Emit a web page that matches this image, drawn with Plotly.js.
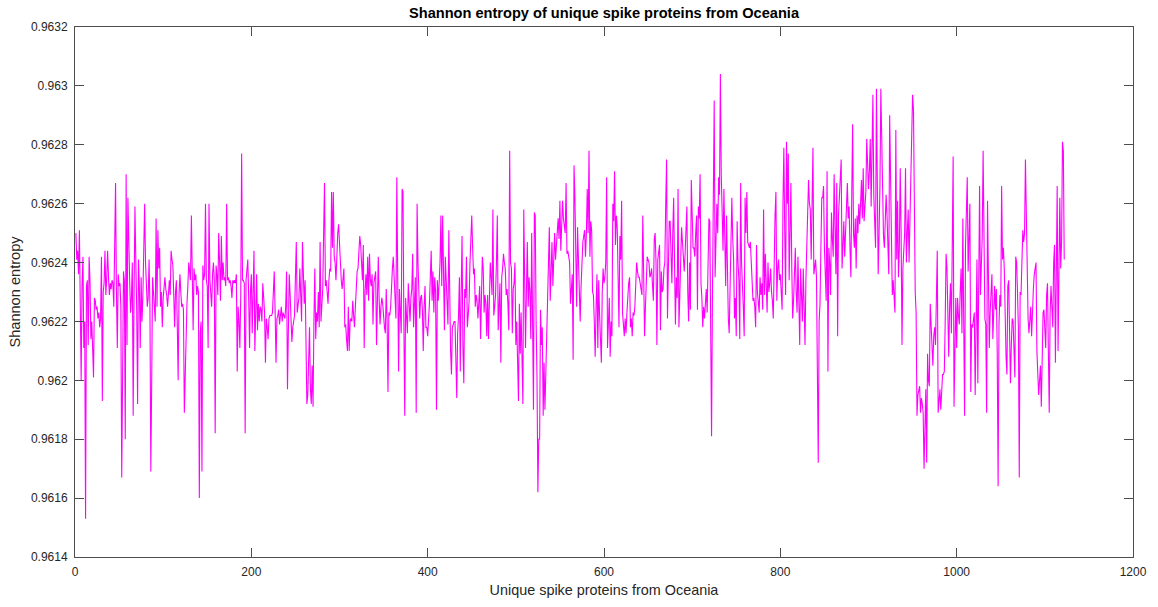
<!DOCTYPE html>
<html>
<head>
<meta charset="utf-8">
<script src="https://cdn.plot.ly/plotly-3.0.1.min.js"></script>
<style>
  html, body { margin: 0; padding: 0; background: #ffffff; }
  #chart { width: 1158px; height: 607px; }
</style>
</head>
<body>
<div id="chart"></div>
<script>
// Shannon entropy of each unique spike protein sequence (index 1..N)
const shannonEntropy = [
  0.9625, 0.96241, 0.96244, 0.96236, 0.96251, 0.9623, 0.962, 0.96232, 0.96242, 0.96211,
  0.9622, 0.96153, 0.96232, 0.96234, 0.96212, 0.96242, 0.96234, 0.96214, 0.9622, 0.96211,
  0.96201, 0.96228, 0.96227, 0.96224, 0.96225, 0.96221, 0.96223, 0.96218, 0.96221, 0.96242,
  0.96193, 0.9623, 0.96233, 0.96244, 0.96229, 0.96235, 0.96244, 0.96235, 0.96229, 0.96233,
  0.96231, 0.96234, 0.96233, 0.96225, 0.96245, 0.96267, 0.9623, 0.96211, 0.96236, 0.96232,
  0.96233, 0.96225, 0.96167, 0.9621, 0.96237, 0.96234, 0.9618, 0.9627, 0.96212, 0.96262,
  0.9624, 0.96234, 0.96223, 0.96228, 0.9624, 0.96188, 0.9623, 0.96259, 0.9624, 0.96224,
  0.96192, 0.96241, 0.96232, 0.96211, 0.96235, 0.9622, 0.96229, 0.9625, 0.9626, 0.9624,
  0.96231, 0.96225, 0.96228, 0.96241, 0.96225, 0.96169, 0.962, 0.96235, 0.9623, 0.96224,
  0.9622, 0.96255, 0.96225, 0.96251, 0.96238,
  // 96..193
  0.96245, 0.96225, 0.9623, 0.96218, 0.96228, 0.96234, 0.96235, 0.96231, 0.96229, 0.96225,
  0.9623, 0.96234, 0.96229, 0.96244, 0.96241, 0.96239, 0.96229, 0.96218, 0.9623, 0.96234,
  0.96219, 0.962, 0.96229, 0.96236, 0.9623, 0.96225, 0.96226, 0.96224, 0.96189, 0.96205,
  0.96216, 0.96226, 0.96232, 0.9624, 0.96237, 0.96234, 0.96256, 0.9623, 0.96217, 0.96238,
  0.96234, 0.96236, 0.96229, 0.96232, 0.9623, 0.9616, 0.96216, 0.9622, 0.96169, 0.96239,
  0.96234, 0.96236, 0.9626, 0.96234, 0.96232, 0.96211, 0.9626, 0.96234, 0.96229, 0.96225,
  0.96236, 0.9624, 0.96234, 0.96182, 0.96239, 0.96236, 0.96229, 0.9625, 0.9624, 0.96227,
  0.96249, 0.96234, 0.9624, 0.96234, 0.96235, 0.96232, 0.9626, 0.96234, 0.96235, 0.96233,
  0.96234, 0.96232, 0.96228, 0.96234, 0.96233, 0.96234, 0.96233, 0.96236, 0.96203, 0.96225,
  0.9622, 0.96211, 0.96229, 0.96277, 0.96234, 0.96234, 0.96233, 0.96182,
  // 194..291
  0.96234, 0.9624, 0.96241, 0.96228, 0.96211, 0.9623, 0.96236, 0.96216, 0.9623, 0.96244,
  0.9621, 0.96225, 0.96236, 0.96217, 0.96226, 0.9622, 0.96225, 0.96224, 0.9622, 0.96233,
  0.96226, 0.96223, 0.96206, 0.96221, 0.96218, 0.96214, 0.96221, 0.96222, 0.96222, 0.96222,
  0.96223, 0.9623, 0.96237, 0.96223, 0.96206, 0.96221, 0.96222, 0.96224, 0.96219, 0.96222,
  0.96225, 0.9622, 0.96223, 0.96222, 0.96221, 0.96225, 0.96237, 0.96197, 0.9622, 0.96236,
  0.96229, 0.9622, 0.96213, 0.96218, 0.9622, 0.96222, 0.96235, 0.96247, 0.96223, 0.96226,
  0.96228, 0.96238, 0.96226, 0.9622, 0.96247, 0.9623, 0.96226, 0.96234, 0.96198, 0.96192,
  0.96195, 0.9621, 0.96218, 0.96197, 0.96192, 0.96205, 0.96191, 0.9622, 0.96238, 0.96214,
  0.96223, 0.9622, 0.9623, 0.96218, 0.96247, 0.9622, 0.96228, 0.96231, 0.9625, 0.96267,
  0.96232, 0.96234, 0.9623, 0.96226, 0.96234, 0.96238, 0.96237, 0.96264,
  // 292..389
  0.96245, 0.96264, 0.96242, 0.9624, 0.96234, 0.96244, 0.9625, 0.96253, 0.96246, 0.96238,
  0.96234, 0.96231, 0.96236, 0.96238, 0.96218, 0.96219, 0.96214, 0.9621, 0.96225, 0.9621,
  0.9622, 0.96221, 0.9622, 0.96227, 0.96222, 0.96218, 0.96225, 0.96233, 0.96237, 0.96238,
  0.96244, 0.96249, 0.96246, 0.96238, 0.96234, 0.96246, 0.96211, 0.9623, 0.96236, 0.96229,
  0.96242, 0.96227, 0.96243, 0.96234, 0.96232, 0.96236, 0.96219, 0.96233, 0.96236, 0.96237,
  0.96212, 0.9623, 0.96242, 0.96227, 0.96219, 0.96225, 0.96228, 0.96226, 0.96221, 0.96218,
  0.96216, 0.96231, 0.9622, 0.96196, 0.96223, 0.96222, 0.96225, 0.96235, 0.96238, 0.96242,
  0.96236, 0.96228, 0.96221, 0.96269, 0.9623, 0.96203, 0.96231, 0.9622, 0.96216, 0.96265,
  0.96264, 0.9622, 0.96188, 0.96228, 0.96222, 0.96216, 0.96233, 0.96224, 0.9622, 0.96228,
  0.96231, 0.96243, 0.96218, 0.96226, 0.96235, 0.96189, 0.9626, 0.9624,
  // 390..487
  0.96231, 0.96221, 0.96228, 0.96229, 0.96224, 0.9621, 0.96225, 0.96232, 0.96218, 0.96218,
  0.96215, 0.9622, 0.96226, 0.96235, 0.96244, 0.96227, 0.96237, 0.96223, 0.96235, 0.9623,
  0.9619, 0.96234, 0.96227, 0.96233, 0.9624, 0.96256, 0.96232, 0.96256, 0.9623, 0.96217,
  0.96242, 0.96232, 0.96228, 0.96219, 0.96251, 0.96219, 0.9621, 0.96202, 0.96218, 0.96219,
  0.9622, 0.9622, 0.96208, 0.96194, 0.96216, 0.96222, 0.96235, 0.96203, 0.9623, 0.96249,
  0.96211, 0.96199, 0.96231, 0.96228, 0.96242, 0.96218, 0.96222, 0.96227, 0.9624, 0.96248,
  0.96256, 0.96245, 0.96236, 0.96238, 0.96225, 0.96229, 0.96227, 0.96221, 0.96226, 0.96232,
  0.96214, 0.9623, 0.96242, 0.96238, 0.96223, 0.96229, 0.96226, 0.96215, 0.96229, 0.96214,
  0.96233, 0.9624, 0.96235, 0.96229, 0.96258, 0.96222, 0.96225, 0.96229, 0.9624, 0.96256,
  0.96217, 0.96228, 0.96233, 0.96206, 0.96235, 0.96238, 0.96243, 0.9624,
  // 488..584
  0.96238, 0.96229, 0.96231, 0.96226, 0.96217, 0.96278, 0.9624, 0.96238, 0.96216, 0.96231,
  0.96233, 0.9624, 0.96212, 0.9622, 0.96208, 0.96193, 0.96226, 0.96209, 0.96223, 0.9621,
  0.96192, 0.96258, 0.96219, 0.96211, 0.9623, 0.96247, 0.96225, 0.96235, 0.9623, 0.96214,
  0.9625, 0.96223, 0.9619, 0.96257, 0.96256, 0.9622, 0.96201, 0.96162, 0.9618, 0.9618,
  0.96224, 0.96212, 0.96218, 0.96188, 0.96206, 0.9619, 0.96202, 0.9621, 0.96229, 0.9624,
  0.96252, 0.96227, 0.9624, 0.96247, 0.96232, 0.9624, 0.9625, 0.96241, 0.96245, 0.96252,
  0.96255, 0.96248, 0.96261, 0.96244, 0.96252, 0.96261, 0.96255, 0.96253, 0.9625, 0.96267,
  0.96243, 0.96244, 0.96242, 0.9624, 0.96226, 0.9623, 0.96236, 0.96207, 0.96273, 0.96262,
  0.96245, 0.96225, 0.96252, 0.9624, 0.96233, 0.9622, 0.96232, 0.9624, 0.96247, 0.96249,
  0.96251, 0.96242, 0.9625, 0.96265, 0.9625, 0.96278, 0.96242,
  // 585..682
  0.96254, 0.96251, 0.9623, 0.96229, 0.9622, 0.96208, 0.96225, 0.96236, 0.96211, 0.96234,
  0.96222, 0.96211, 0.96206, 0.9623, 0.96238, 0.96233, 0.96235, 0.9624, 0.96269, 0.96211,
  0.9622, 0.96228, 0.96208, 0.9622, 0.96215, 0.9626, 0.96254, 0.96271, 0.96246, 0.96256,
  0.96252, 0.9623, 0.96218, 0.96249, 0.96241, 0.96261, 0.96223, 0.96219, 0.96215, 0.96221,
  0.96216, 0.96223, 0.96231, 0.96233, 0.96235, 0.96218, 0.96221, 0.96215, 0.96223, 0.96222,
  0.96225, 0.96235, 0.9624, 0.96237, 0.96235, 0.96235, 0.96233, 0.9623, 0.96229, 0.96256,
  0.96229, 0.96215, 0.96225, 0.96231, 0.96242, 0.96241, 0.9624, 0.96235, 0.96236, 0.96238,
  0.96234, 0.96227, 0.96248, 0.9625, 0.9624, 0.96212, 0.96241, 0.96244, 0.96246, 0.96217,
  0.96237, 0.9623, 0.96231, 0.96238, 0.9624, 0.9626, 0.96275, 0.96221, 0.9624, 0.96254,
  0.96254, 0.9624, 0.96233, 0.9625, 0.96262, 0.9624, 0.96219, 0.96235,
  // 683..779
  0.96228, 0.96265, 0.96218, 0.96229, 0.9624, 0.96252, 0.96247, 0.9624, 0.96237, 0.96243,
  0.9625, 0.96259, 0.9623, 0.9622, 0.9624, 0.96224, 0.96268, 0.96249, 0.96245, 0.96245,
  0.96242, 0.9625, 0.96256, 0.96224, 0.96259, 0.96255, 0.9627, 0.96233, 0.96228, 0.96218,
  0.96225, 0.96221, 0.96225, 0.96231, 0.96223, 0.9624, 0.96255, 0.96254, 0.9622, 0.96181,
  0.96229, 0.9626, 0.96295, 0.96235, 0.96245, 0.9626, 0.9625, 0.96269, 0.96263, 0.96304,
  0.9627, 0.96251, 0.96244, 0.96265, 0.96245, 0.96232, 0.96256, 0.96235, 0.96221, 0.96216,
  0.9623, 0.9625, 0.96262, 0.96248, 0.96241, 0.96221, 0.96228, 0.96215, 0.96254, 0.9624,
  0.96234, 0.96214, 0.96267, 0.9624, 0.96234, 0.96225, 0.96215, 0.96262, 0.9625, 0.96264,
  0.96247, 0.96246, 0.96245, 0.96247, 0.96238, 0.96231, 0.96227, 0.96228, 0.96225, 0.96218,
  0.96246, 0.9623, 0.96225, 0.96223, 0.96235, 0.96229, 0.96233,
  // 780..877
  0.96224, 0.96258, 0.96229, 0.96243, 0.9623, 0.96223, 0.9624, 0.9623, 0.96233, 0.96238,
  0.9623, 0.96227, 0.96221, 0.96245, 0.96256, 0.96264, 0.96227, 0.96238, 0.96241, 0.96234,
  0.96236, 0.9623, 0.96224, 0.9626, 0.96279, 0.9625, 0.96229, 0.96281, 0.9626, 0.96277,
  0.96234, 0.9625, 0.96267, 0.96238, 0.96221, 0.96227, 0.96235, 0.96245, 0.9623, 0.96223,
  0.96242, 0.96225, 0.96212, 0.96238, 0.96225, 0.9622, 0.96238, 0.9622, 0.96212, 0.96234,
  0.96245, 0.96261, 0.96268, 0.9626, 0.96258, 0.96241, 0.9626, 0.96279, 0.96236, 0.96238,
  0.96241, 0.96235, 0.9621, 0.96172, 0.9622, 0.96226, 0.96245, 0.96262, 0.96262, 0.96266,
  0.96245, 0.96235, 0.96227, 0.96271, 0.96203, 0.96245, 0.9624, 0.96229, 0.96257, 0.96248,
  0.96242, 0.9627, 0.9625, 0.96236, 0.96267, 0.96215, 0.96256, 0.96262, 0.96272, 0.96275,
  0.96238, 0.9625, 0.96254, 0.96242, 0.9625, 0.96258, 0.96267, 0.96255,
  // 878..974
  0.96259, 0.96245, 0.96235, 0.96263, 0.96287, 0.9625, 0.96245, 0.96255, 0.96238, 0.96256,
  0.9625, 0.9626, 0.96253, 0.9626, 0.96268, 0.96255, 0.96272, 0.96254, 0.9626, 0.96264,
  0.96282, 0.96275, 0.96265, 0.96271, 0.96282, 0.96259, 0.9628, 0.96297, 0.96263, 0.9625,
  0.96245, 0.96299, 0.96261, 0.96236, 0.9625, 0.96266, 0.96299, 0.96277, 0.96272, 0.96249,
  0.96245, 0.96255, 0.96263, 0.96256, 0.96245, 0.96236, 0.9629, 0.96263, 0.96241, 0.96229,
  0.96234, 0.9623, 0.96223, 0.96285, 0.96241, 0.96261, 0.96235, 0.96245, 0.96272, 0.9625,
  0.96212, 0.96238, 0.96243, 0.9625, 0.96272, 0.9624, 0.9625, 0.96258, 0.9624, 0.96255,
  0.96261, 0.96281, 0.96297, 0.96292, 0.96252, 0.9623, 0.96223, 0.96188, 0.96195, 0.96197,
  0.96198, 0.96189, 0.96194, 0.96192, 0.96189, 0.9617, 0.96185, 0.96197, 0.96172, 0.96209,
  0.962, 0.96198, 0.96226, 0.9622, 0.96214, 0.96205, 0.96215,
  // 975..1072
  0.96218, 0.96212, 0.9623, 0.96244, 0.96189, 0.96195, 0.96197, 0.9619, 0.962, 0.96202,
  0.96202, 0.96203, 0.9622, 0.96243, 0.96238, 0.9622, 0.96208, 0.96225, 0.96233, 0.96216,
  0.9625, 0.96276, 0.96191, 0.9622, 0.96228, 0.96211, 0.96228, 0.96222, 0.96219, 0.9623,
  0.96238, 0.96216, 0.96255, 0.9622, 0.96188, 0.96245, 0.9626, 0.96269, 0.96237, 0.9625,
  0.9626, 0.96196, 0.96219, 0.96218, 0.9622, 0.96223, 0.96195, 0.9622, 0.96241, 0.96199,
  0.96245, 0.96266, 0.96229, 0.9624, 0.96249, 0.96278, 0.9624, 0.96221, 0.96219, 0.96189,
  0.96261, 0.9623, 0.96211, 0.96223, 0.9623, 0.96236, 0.96214, 0.96225, 0.96232, 0.96224,
  0.96231, 0.9621, 0.96164, 0.96219, 0.96229, 0.96225, 0.96266, 0.96241, 0.96245, 0.96238,
  0.96214, 0.96208, 0.96202, 0.96232, 0.96234, 0.9622, 0.96199, 0.96212, 0.96221, 0.9622,
  0.9621, 0.96201, 0.96242, 0.9624, 0.9623, 0.96218, 0.96167, 0.9623,
  // 1073..1122
  0.96229, 0.96238, 0.96251, 0.96247, 0.9625, 0.96275, 0.9625, 0.9623, 0.96221, 0.96216,
  0.9622, 0.96225, 0.96215, 0.96225, 0.96231, 0.96236, 0.96238, 0.9624, 0.9621, 0.96198,
  0.96195, 0.962, 0.96205, 0.96191, 0.96215, 0.96223, 0.96224, 0.96215, 0.96211, 0.96229,
  0.96233, 0.9621, 0.96189, 0.96223, 0.96232, 0.96225, 0.96218, 0.9624, 0.96246, 0.96206,
  0.9624, 0.96266, 0.9621, 0.96255, 0.96262, 0.96238, 0.96247, 0.96281, 0.96278, 0.96241
];

// Axis ticks
const xTicks = [0, 200, 400, 600, 800, 1000, 1200];
const yTicks = [0.9614, 0.9616, 0.9618, 0.962, 0.9622, 0.9624, 0.9626, 0.9628, 0.963, 0.9632];
const yTickText = ['0.9614', '0.9616', '0.9618', '0.962', '0.9622', '0.9624', '0.9626', '0.9628', '0.963', '0.9632'];

const chartTitle = 'Shannon entropy of unique spike proteins from Oceania';
const xLabel = 'Unique spike proteins from Oceania';
const yLabel = 'Shannon entropy';

const FONT = 'Liberation Sans, Arial, Helvetica, sans-serif';
const INK = '#262626';

const trace = {
  type: 'scatter',
  mode: 'lines',
  x0: 1,
  dx: 1,
  y: shannonEntropy,
  line: { color: '#ff00ff', width: 1.1 },
  hoverinfo: 'x+y'
};

const axisCommon = {
  showgrid: false,
  zeroline: false,
  showline: true,
  linecolor: '#4d4d4d',
  linewidth: 1,
  mirror: 'ticks',
  ticks: 'inside',
  ticklen: 9,
  tickwidth: 1,
  tickcolor: '#4d4d4d',
  tickfont: { family: FONT, size: 12, color: INK },
  automargin: false
};

const layout = {
  width: 1158,
  height: 607,
  margin: { l: 75, r: 25, t: 27, b: 50, pad: 0 },
  paper_bgcolor: '#ffffff',
  plot_bgcolor: '#ffffff',
  showlegend: false,
  title: {
    text: '<b>' + chartTitle + '</b>',
    font: { family: FONT, size: 14.6, color: '#000000' },
    x: 0.5, xref: 'paper', xanchor: 'center',
    y: 1 - 13 / 607, yref: 'container', yanchor: 'middle'
  },
  xaxis: Object.assign({}, axisCommon, {
    range: [0, 1200],
    tickvals: xTicks,
    ticktext: xTicks.map(String),
    ticklabelstandoff: 4,
    title: { text: xLabel, font: { family: FONT, size: 14.4, color: INK }, standoff: 6 }
  }),
  yaxis: Object.assign({}, axisCommon, {
    range: [0.9614, 0.9632],
    tickvals: yTicks,
    ticktext: yTickText,
    ticklabelstandoff: 4,
    title: { text: yLabel, font: { family: FONT, size: 14.6, color: INK }, standoff: 6 }
  })
};

Plotly.newPlot('chart', [trace], layout, { displayModeBar: false, staticPlot: true });
</script>
</body>
</html>
